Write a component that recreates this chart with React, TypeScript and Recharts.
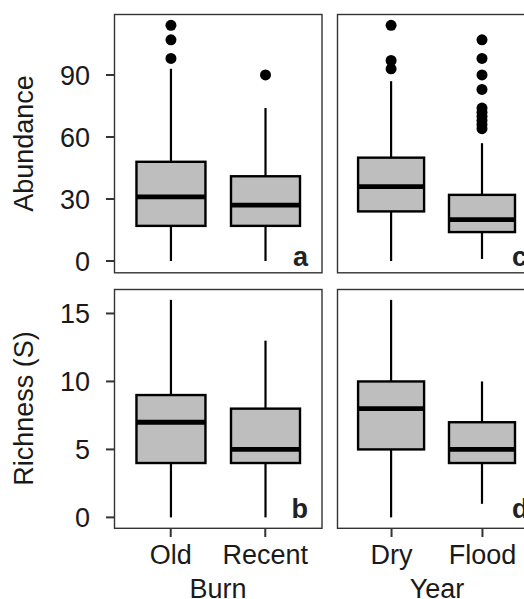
import React from 'react';
import { ComposedChart, Bar, XAxis, YAxis } from 'recharts';

const FONT = '"Liberation Sans", Arial, Helvetica, sans-serif';

// categories
const burnCats = ['Old', 'Recent'];
const yearCats = ['Dry', 'Flood'];

// five-number summaries [min, q1, median, q3, max]
const abundOld = [0, 17, 31, 48, 93];
const abundRecent = [0, 17, 27, 41, 74];
const abundDry = [0, 24, 36, 50, 87];
const abundFlood = [1, 14, 20, 32, 57];
const richOld = [0, 4, 7, 9, 16];
const richRecent = [0, 4, 5, 8, 13];
const richDry = [0, 5, 8, 10, 16];
const richFlood = [1, 4, 5, 7, 10];

// outliers
const abundOldOut = [98, 107, 114];
const abundRecentOut = [90];
const abundDryOut = [93, 97, 114];
const abundFloodOut = [64, 66, 68, 70, 72, 74, 83, 90, 98, 107];
const richOldOut: number[] = [];
const richRecentOut: number[] = [];
const richDryOut: number[] = [];
const richFloodOut: number[] = [];

// axes
const abundTicks = [0, 30, 60, 90];
const abundDomain = [-5.8, 119.5];
const richTicks = [0, 5, 10, 15];
const richDomain = [-0.78, 16.8];

type Row = { cat: string; min: number; q1: number; med: number; q3: number; max: number; out: number[] };

const makeRows = (cats: string[], stats: number[][], outs: number[][]): Row[] =>
  cats.map((c, i) => ({
    cat: c,
    min: stats[i][0],
    q1: stats[i][1],
    med: stats[i][2],
    q3: stats[i][3],
    max: stats[i][4],
    out: outs[i],
  }));

const rowsAbundBurn = makeRows(burnCats, [abundOld, abundRecent], [abundOldOut, abundRecentOut]);
const rowsAbundYear = makeRows(yearCats, [abundDry, abundFlood], [abundDryOut, abundFloodOut]);
const rowsRichBurn = makeRows(burnCats, [richOld, richRecent], [richOldOut, richRecentOut]);
const rowsRichYear = makeRows(yearCats, [richDry, richFlood], [richDryOut, richFloodOut]);

const BoxShape = (props: any) => {
  const { x, y, width, height, payload } = props;
  if (payload == null) return null;
  const top = Math.min(y, y + height);
  const bot = Math.max(y, y + height);
  const { min, q1, med, q3, max, out } = payload as Row;
  const k = (bot - top) / (max - min);
  const py = (v: number) => bot - (v - min) * k;
  const cx = x + width / 2;
  return (
    <g>
      <line x1={cx} x2={cx} y1={py(max)} y2={py(q3)} stroke="#000" strokeWidth={2.2} />
      <line x1={cx} x2={cx} y1={py(q1)} y2={py(min)} stroke="#000" strokeWidth={2.2} />
      <rect x={x} y={py(q3)} width={width} height={py(q1) - py(q3)} fill="#BEBEBE" stroke="#000" strokeWidth={2.4} />
      <line x1={x} x2={x + width} y1={py(med)} y2={py(med)} stroke="#000" strokeWidth={4.8} />
      {out.map((v, i) => (
        <circle key={i} cx={cx} cy={py(v)} r={5.5} fill="#000" />
      ))}
    </g>
  );
};

type PanelProps = {
  left: number;
  top: number;
  width: number;
  height: number;
  margin: { top: number; right: number; bottom: number; left: number };
  rows: Row[];
  domain: number[];
  ticks: number[];
  showX: boolean;
  showY: boolean;
  plotWidth: number;
  barSize: number;
};

const Panel = ({ left, top, width, height, margin, rows, domain, ticks, showX, showY, plotWidth, barSize }: PanelProps) => {
  const pad = plotWidth * (0.6 / 2.2 - 0.25) * 2;
  return (
    <div style={{ position: 'absolute', left, top }}>
      <ComposedChart width={width} height={height} data={rows} margin={margin}>
        <XAxis
          dataKey="cat"
          type="category"
          hide={!showX}
          height={showX ? 71 : 0}
          padding={{ left: pad, right: pad }}
          axisLine={false}
          tickLine={{ stroke: '#333', strokeWidth: 2 }}
          tickSize={9}
          tickMargin={8}
          interval={0}
          tick={{ fill: '#1a1a1a', fontSize: 27, fontFamily: FONT }}
        />
        <YAxis
          type="number"
          domain={domain as [number, number]}
          ticks={ticks}
          allowDataOverflow
          hide={!showY}
          width={showY ? 114 : 0}
          axisLine={false}
          tickLine={{ stroke: '#333', strokeWidth: 2 }}
          tickSize={8}
          tickMargin={16}
          tick={{ fill: '#1a1a1a', fontSize: 27, fontFamily: FONT }}
        />
        <Bar
          dataKey={(d: Row) => [d.min, d.max]}
          barSize={barSize}
          shape={BoxShape}
          isAnimationActive={false}
        />
      </ComposedChart>
    </div>
  );
};

export default function App() {
  return (
    <div
      style={{
        position: 'absolute',
        left: 0,
        top: 0,
        width: 524,
        height: 599,
        overflow: 'hidden',
        background: '#fff',
        fontFamily: FONT,
      }}
    >
      <Panel left={0} top={0} width={330} height={280} margin={{ top: 14, right: 8, bottom: 7, left: 0 }}
        rows={rowsAbundBurn} domain={abundDomain} ticks={abundTicks} showX={false} showY plotWidth={208} barSize={69} />
      <Panel left={322} top={0} width={223} height={280} margin={{ top: 14, right: 8, bottom: 7, left: 15 }}
        rows={rowsAbundYear} domain={abundDomain} ticks={abundTicks} showX={false} showY={false} plotWidth={200} barSize={66} />
      <Panel left={0} top={280} width={330} height={319} margin={{ top: 9, right: 8, bottom: 0, left: 0 }}
        rows={rowsRichBurn} domain={richDomain} ticks={richTicks} showX showY plotWidth={208} barSize={69} />
      <Panel left={322} top={280} width={223} height={319} margin={{ top: 9, right: 8, bottom: 0, left: 15 }}
        rows={rowsRichYear} domain={richDomain} ticks={richTicks} showX showY={false} plotWidth={200} barSize={66} />
      <svg width={524} height={599} style={{ position: 'absolute', left: 0, top: 0, pointerEvents: 'none' }}>
        <g fill="none" stroke="#333" strokeWidth={1.4}>
          <rect x={114.5} y={14.5} width={207.5} height={258.3} />
          <rect x={337.5} y={14.5} width={200} height={258.3} />
          <rect x={114.5} y={289.5} width={207.5} height={238.8} />
          <rect x={337.5} y={289.5} width={200} height={238.8} />
        </g>
        <g fontFamily={FONT} fill="#1a1a1a" fontSize={27}>
          <text transform="translate(33,143.5) rotate(-90)" textAnchor="middle">Abundance</text>
          <text transform="translate(33,408.5) rotate(-90)" textAnchor="middle">Richness (S)</text>
          <text x={218} y={597.5} textAnchor="middle">Burn</text>
          <text x={437} y={597.5} textAnchor="middle">Year</text>
          <g fontWeight="bold" fill="#222">
            <text x={308} y={266} textAnchor="end">a</text>
            <text x={308} y={518} textAnchor="end">b</text>
            <text x={512} y={266} textAnchor="start">c</text>
            <text x={512} y={518} textAnchor="start">d</text>
          </g>
        </g>
      </svg>
    </div>
  );
}
